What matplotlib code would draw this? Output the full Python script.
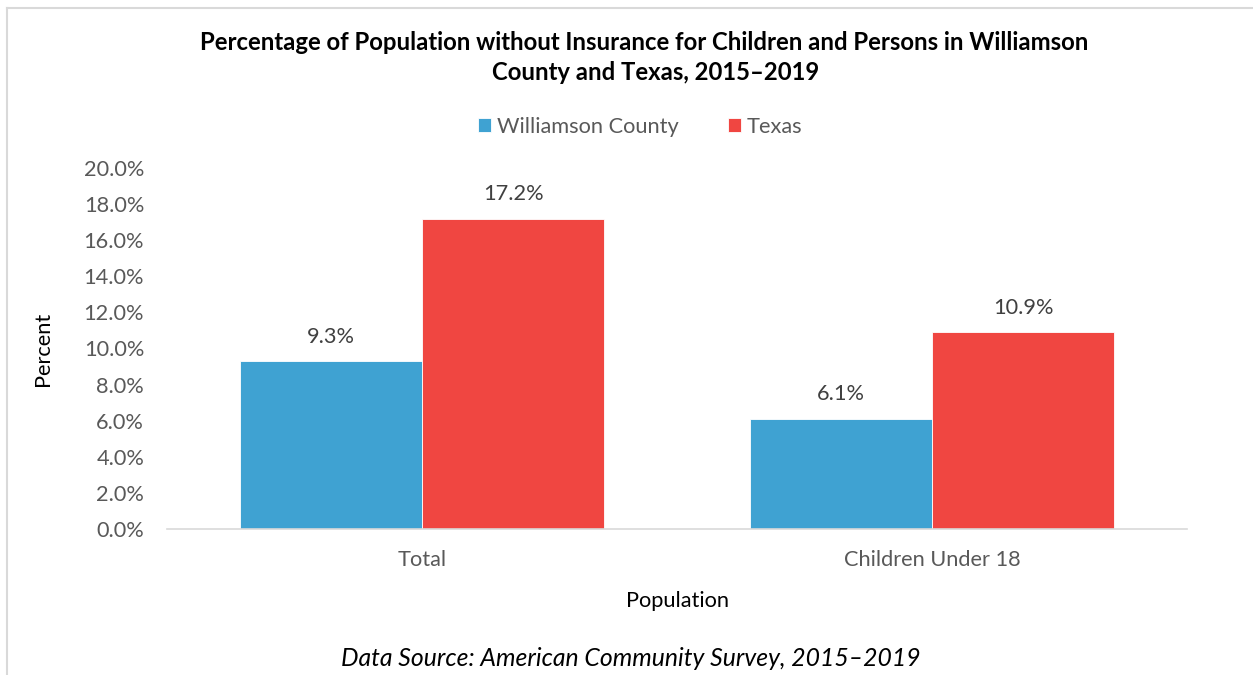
import numpy as np
import matplotlib.pyplot as plt
from matplotlib.lines import Line2D

plt.rcParams['font.family'] = ['Lato', 'DejaVu Sans']

categories = ['Total', 'Children Under 18']
series_names = ['Williamson County', 'Texas']
williamson = [9.3, 6.1]
texas = [17.2, 10.9]
yticks = [0, 2, 4, 6, 8, 10, 12, 14, 16, 18, 20]

colors = ['#3FA2D2', '#F04641']
gray = '#595959'
fs = 15.7

W, H = 1253, 675
fig = plt.figure(figsize=(W / 100, H / 100), dpi=100)
ax = fig.add_axes([167 / W, 1 - 529 / H, (1187 - 167) / W, (529 - 168) / H])

x = np.arange(len(categories))
bw = 0.357
for i, (vals, name) in enumerate(zip([williamson, texas], series_names)):
    pos = x + (i - 0.5) * bw
    bars = ax.bar(pos, vals, width=bw, color=colors[i], edgecolor='white',
                  linewidth=0.6, label=name, zorder=2)
    for b, v in zip(bars, vals):
        ax.annotate(f'{v:.1f}%', (b.get_x() + b.get_width() / 2, v),
                    xytext=(0, 10.5), textcoords='offset points',
                    ha='center', va='bottom', fontsize=fs, color='#404040')

ax.set_xlim(-0.5, 1.5)
ax.set_ylim(0, 20)
ax.set_yticks(yticks)
ax.set_yticklabels([f'{t:.1f}%' for t in yticks])
ax.set_xticks(x)
ax.set_xticklabels(categories)
ax.tick_params(axis='y', length=0, pad=16.5, labelsize=fs, labelcolor=gray)
ax.tick_params(axis='x', length=0, pad=15, labelsize=fs, labelcolor=gray)
for s in ['top', 'right', 'left']:
    ax.spines[s].set_visible(False)
ax.spines['bottom'].set_color('#D9D9D9')
ax.spines['bottom'].set_linewidth(1.2)

ax.set_ylabel('Percent', fontsize=fs, color='black', labelpad=22)
ax.set_xlabel('Population', fontsize=fs, color='black', labelpad=15)

fig.text(644 / W, 1 - 42 / H, 'Percentage of Population without Insurance for Children and Persons in Williamson',
         ha='center', va='center', fontsize=17.2, fontweight='bold')
fig.text(656 / W, 1 - 72 / H, 'County and Texas, 2015\u20132019',
         ha='center', va='center', fontsize=17.2, fontweight='bold')

ax.legend(loc='center', bbox_to_anchor=(640 / W, 1 - 127 / H), bbox_transform=fig.transFigure,
          ncol=2, frameon=False, fontsize=fs, handlelength=0.6, handleheight=0.6,
          handletextpad=0.25, columnspacing=2.25, labelcolor=gray)

fig.text(631 / W, 1 - 659 / H, 'Data Source: American Community Survey, 2015\u20132019',
         ha='center', va='center', fontsize=17.8, style='italic')

# chart frame (top and left edges visible)
fig.add_artist(Line2D([7 / W, 7 / W], [0, 1 - 8 / H], color='#D9D9D9', lw=1.5))
fig.add_artist(Line2D([7 / W, 1], [1 - 8 / H, 1 - 8 / H], color='#D9D9D9', lw=1.5))

fig.savefig('out.png', dpi=100)
